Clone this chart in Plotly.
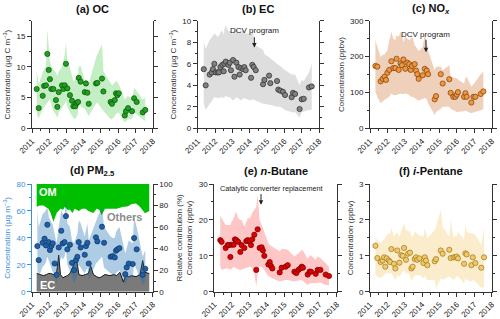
import plotly.graph_objects as go

# ---------------- data ----------------
years = [2011, 2012, 2013, 2014, 2015, 2016, 2017, 2018]
year_labels = [str(y) for y in years]

# (a) OC
a_dates = [2011.27, 2011.39, 2011.62, 2011.70, 2011.81, 2011.89, 2011.97, 2012.04, 2012.12, 2012.24,
           2012.39, 2012.47, 2012.55, 2012.74, 2012.82, 2012.90, 2012.97, 2013.05, 2013.20, 2013.32,
           2013.40, 2013.51, 2013.59, 2013.67, 2013.71, 2013.82, 2014.06, 2014.13, 2014.21, 2014.29,
           2014.71, 2014.79, 2015.06, 2015.14, 2015.56, 2015.64, 2015.80, 2015.87, 2015.95, 2016.03,
           2016.38, 2016.45, 2016.57, 2016.80, 2016.92, 2017.07, 2017.42, 2017.57]
oc = [6.4, 3.3, 5.3, 6.9, 7.0, 12.1, 9.5, 8.0, 6.4, 6.4, 4.6, 3.5, 5.9, 7.0, 6.4, 7.0, 10.5, 6.5, 5.4, 4.5,
      3.6, 3.6, 4.1, 4.3, 8.2, 7.6, 5.9, 7.3, 5.8, 4.0, 7.3, 7.4, 8.1, 6.0, 4.3, 4.0, 4.6, 5.7, 5.4, 5.7,
      2.1, 2.8, 3.3, 2.8, 4.9, 4.3, 2.6, 3.0]
oc_hi = [9.3, 7.2, 9.1, 9.6, 10.2, 16.1, 12.9, 11.0, 10.2, 9.5, 9.1, 8.5, 9.3, 10.0, 11.0, 12.0, 14.0, 11.0,
         9.9, 8.5, 7.7, 8.0, 8.5, 9.0, 10.0, 10.2, 7.7, 8.0, 7.8, 7.2, 11.5, 12.0, 13.7, 9.3, 7.2, 7.0, 7.4,
         7.7, 7.5, 7.2, 4.7, 5.0, 5.3, 4.7, 6.6, 6.1, 4.7, 5.0]
oc_lo = [2.3, 1.6, 3.1, 3.5, 3.8, 4.2, 4.5, 4.7, 3.8, 2.8, 2.2, 1.7, 2.6, 3.4, 3.6, 4.0, 4.5, 3.5, 2.6, 2.0,
         1.7, 1.5, 2.0, 2.4, 4.7, 3.6, 3.2, 3.0, 2.5, 2.0, 4.0, 4.2, 3.1, 2.8, 1.5, 1.5, 2.0, 2.4, 2.5, 2.6,
         0.9, 1.2, 1.5, 1.5, 2.6, 2.3, 1.5, 1.2]

# (b) EC
b_dates = [2011.35, 2011.46, 2011.69, 2011.81, 2011.88, 2011.96, 2012.04, 2012.15, 2012.23, 2012.31,
           2012.42, 2012.50, 2012.54, 2012.62, 2012.77, 2012.85, 2012.92, 2013.04, 2013.12, 2013.23,
           2013.35, 2013.42, 2013.50, 2013.62, 2013.69, 2013.77, 2014.08, 2014.15, 2014.23, 2014.35,
           2014.77, 2014.85, 2015.12, 2015.19, 2015.58, 2015.65, 2015.77, 2015.92, 2016.04, 2016.42,
           2016.50, 2016.62, 2016.88, 2017.00, 2017.12, 2017.42, 2017.58]
ec = [5.5, 4.0, 5.0, 5.2, 5.5, 6.0, 5.2, 5.2, 5.2, 5.7, 5.9, 5.3, 6.0, 6.2, 5.9, 6.1, 5.4, 6.35, 4.8, 6.1,
      5.7, 5.0, 5.6, 5.5, 5.7, 5.4, 4.7, 5.9, 5.7, 5.4, 4.1, 4.5, 4.9, 4.2, 4.4, 3.6, 3.5, 3.4, 3.1, 2.9,
      3.3, 3.2, 1.8, 2.7, 2.75, 3.8, 3.9]
ec_hi = [8.0, 7.4, 8.2, 8.5, 8.7, 8.8, 8.7, 8.5, 8.6, 8.9, 9.1, 8.7, 9.2, 9.6, 9.0, 9.1, 9.1, 8.7, 9.4, 9.3,
         8.8, 8.9, 8.9, 9.2, 9.0, 8.8, 8.8, 9.1, 8.5, 7.7, 7.3, 6.9, 6.6, 6.5, 6.0, 5.9, 5.8, 5.6, 5.4, 5.0,
         5.0, 5.0, 4.0, 4.5, 4.4, 5.2, 6.0]
ec_lo = [2.3, 1.7, 2.3, 2.5, 2.7, 2.9, 2.9, 2.8, 2.8, 2.9, 2.9, 2.8, 2.9, 3.0, 2.9, 2.9, 2.8, 2.6, 2.7, 2.9,
         2.8, 2.7, 2.6, 2.8, 2.8, 2.8, 2.6, 2.7, 2.7, 2.6, 2.3, 2.3, 2.2, 2.2, 2.0, 2.0, 2.0, 1.8, 1.7, 1.5,
         1.5, 1.5, 1.0, 1.5, 1.6, 1.7, 1.7]

# (c) NOx
c_dates = [2011.31, 2011.42, 2011.61, 2011.73, 2011.84, 2011.92, 2012.00, 2012.11, 2012.23, 2012.34,
           2012.46, 2012.53, 2012.65, 2012.76, 2012.84, 2012.92, 2013.03, 2013.15, 2013.26, 2013.34,
           2013.42, 2013.57, 2013.65, 2013.72, 2013.80, 2014.03, 2014.15, 2014.26, 2014.34, 2014.72,
           2014.80, 2015.07, 2015.18, 2015.56, 2015.64, 2015.79, 2015.91, 2015.99, 2016.06, 2016.41,
           2016.49, 2016.56, 2016.83, 2016.95, 2017.06, 2017.37, 2017.52]
nox = [174, 172, 131, 138, 144, 135, 155, 163, 187, 168, 168, 194, 163, 181, 176, 192, 166, 183, 179, 163,
       174, 179, 161, 151, 138, 148, 166, 161, 151, 81, 90, 151, 125, 137, 99, 88, 88, 94, 101, 88,
       98, 88, 72, 88, 88, 96, 103]
nox_hi = [246, 227, 199, 205, 205, 212, 218, 246, 269, 250, 246, 260, 255, 269, 260, 240, 255, 250, 246, 250,
          255, 232, 225, 218, 215, 227, 262, 240, 218, 162, 172, 172, 162, 176, 144, 142, 140, 140, 136, 125,
          140, 144, 116, 125, 130, 151, 158]
nox_lo = [102, 88, 70, 75, 80, 82, 83, 88, 97, 93, 92, 95, 95, 97, 95, 96, 97, 96, 92, 88,
          88, 85, 82, 79, 78, 82, 85, 82, 70, 37, 46, 55, 60, 60, 55, 51, 48, 46, 46, 48,
          50, 48, 42, 44, 46, 50, 53]

# (d) PM2.5
d_dates = [2011.31, 2011.39, 2011.62, 2011.73, 2011.81, 2011.89, 2011.97, 2012.04, 2012.12, 2012.20,
           2012.31, 2012.43, 2012.55, 2012.70, 2012.78, 2012.89, 2012.97, 2013.05, 2013.20, 2013.32,
           2013.44, 2013.55, 2013.63, 2013.71, 2013.82, 2014.06, 2014.13, 2014.21, 2014.29, 2014.71,
           2014.79, 2015.06, 2015.18, 2015.56, 2015.68, 2015.80, 2015.87, 2015.95, 2016.07, 2016.41,
           2016.49, 2016.61, 2016.84, 2016.92, 2017.07, 2017.42, 2017.57]
pm = [33.9, 23.5, 36.4, 39.4, 34.4, 49.8, 36.9, 31.0, 33.9, 35.9, 21.0, 12.6, 32.9, 45.3, 35.9, 36.9, 56.2,
      31.5, 34.9, 21.5, 16.1, 23.5, 26.0, 36.9, 32.9, 27.5, 33.9, 36.4, 21.0, 40.4, 37.4, 48.3, 36.4, 26.0,
      26.5, 25.5, 30.5, 31.5, 32.4, 13.1, 18.1, 21.0, 20.6, 39.9, 31.5, 12.6, 17.1]
pm_hi = [60.7, 48, 58, 59, 60.7, 63, 55.7, 54, 53, 50, 43, 36, 48, 60.7, 58, 55.7, 70.6, 50.8, 48, 38,
         36, 40, 43, 53, 50.8, 41, 46, 50.8, 38, 53, 55, 63, 48, 41, 40, 40, 44, 46, 48, 28.5,
         33, 38, 36, 55.7, 48, 26, 31]
pm_lo = [16, 11, 18.6, 20, 22, 26, 24, 20, 18, 15, 11, 6.2, 18.6, 26, 24, 26, 31, 20, 15, 11,
         6.2, 10, 12, 20, 18, 13.6, 16, 18, 8.7, 21, 22, 26, 18, 13.6, 13, 12, 14, 15, 16, 5,
         8, 11, 10, 21, 16, 5, 8]
comp_dates = [2011.27, 2011.45, 2011.66, 2011.85, 2011.95, 2012.08, 2012.24, 2012.43, 2012.55, 2012.65,
              2012.80, 2012.91, 2013.05, 2013.20, 2013.35, 2013.47, 2013.58, 2013.72, 2013.90, 2014.10,
              2014.27, 2014.40, 2014.56, 2014.75, 2014.90, 2015.04, 2015.23, 2015.52, 2015.75, 2015.91,
              2016.10, 2016.30, 2016.45, 2016.59, 2016.78, 2017.03, 2017.26, 2017.42, 2017.55, 2017.80]
ec_pct = [17, 16, 15, 16, 17, 17, 16, 18, 34, 16, 13, 14, 15, 17, 22, 28, 30, 16, 15, 16,
          17, 24, 16, 14, 13, 14, 16, 15, 16, 15, 18, 9, 16, 14, 15, 14, 16, 29, 18, 17]
om_pct = [21, 20, 20, 22, 23, 27, 35, 27, 25, 23, 24, 21, 24, 24, 27, 23, 24, 25, 23, 23,
          25, 26, 27, 23, 24, 29, 23, 23, 23, 23, 22, 21, 21, 20.5, 18.6, 18, 21, 24, 27.2, 25]
others_pct = [100 - e - o for e, o in zip(ec_pct, om_pct)]

# (e) n-Butane
e_dates = [2011.34, 2011.42, 2011.65, 2011.76, 2011.84, 2011.92, 2011.99, 2012.11, 2012.18, 2012.26,
           2012.37, 2012.49, 2012.56, 2012.72, 2012.83, 2012.91, 2013.02, 2013.10, 2013.17, 2013.29,
           2013.40, 2013.48, 2013.59, 2013.71, 2013.78, 2013.86, 2014.09, 2014.17, 2014.24, 2014.32,
           2014.74, 2014.85, 2015.08, 2015.20, 2015.58, 2015.69, 2015.81, 2015.92, 2016.00, 2016.07,
           2016.34, 2016.45, 2016.53, 2016.80, 2016.91, 2017.07, 2017.37, 2017.56]
butane = [14.4, 13.9, 12.2, 13.0, 13.0, 9.7, 13.1, 13.1, 14.6, 14.4, 13.9, 11.1, 13.0, 12.2, 14.1, 14.4,
          14.1, 13.0, 14.6, 15.9, 6.1, 17.4, 12.2, 12.4, 11.5, 10.0, 7.6, 8.3, 7.2, 6.5, 5.4, 6.7, 7.0, 7.4,
          5.6, 5.2, 6.1, 6.5, 7.0, 6.7, 4.8, 5.6, 5.6, 5.0, 6.1, 6.1, 4.8, 4.4]
butane_hi = [21.4, 20.5, 18.6, 18.6, 18.6, 18.6, 19.5, 20.5, 21.5, 22.3, 20.5, 20, 20, 18.1, 19.5, 20.5,
             20.5, 21, 22, 22.8, 23.7, 27, 20, 18.6, 17.7, 16.3, 13.5, 13, 12.8, 12.6, 11.2, 12, 11.7, 11.7,
             9.8, 10.2, 10.7, 11.2, 11.7, 11.5, 9.2, 10, 10.2, 8.9, 9.8, 9.4, 8, 7]
butane_lo = [7.0, 6.1, 6.5, 6.5, 6.4, 6.1, 6.5, 7.0, 6.7, 6.5, 6.3, 6.1, 6.3, 6.5, 6.7, 6.8, 7.0, 7.0, 6.5,
             5.0, 1.5, 5.2, 7.0, 7.0, 6.5, 6.1, 4.3, 4.0, 3.9, 3.8, 2.9, 3.0, 3.3, 3.3, 2.9, 3.0, 3.1, 3.3,
             3.3, 3.2, 1.9, 2.3, 2.4, 2.4, 2.5, 2.6, 1.9, 1.9]

# (f) i-Pentane
f_dates = [2011.31, 2011.42, 2011.61, 2011.73, 2011.81, 2011.88, 2011.96, 2012.08, 2012.15, 2012.23,
           2012.38, 2012.46, 2012.57, 2012.69, 2012.80, 2012.88, 2012.96, 2013.07, 2013.19, 2013.30,
           2013.38, 2013.45, 2013.57, 2013.65, 2013.72, 2013.84, 2014.07, 2014.15, 2014.22, 2014.30,
           2014.72, 2014.80, 2015.07, 2015.18, 2015.56, 2015.64, 2015.80, 2015.91, 2015.99, 2016.06,
           2016.41, 2016.49, 2016.56, 2016.83, 2016.91, 2017.06, 2017.40, 2017.56]
pentane = [1.28, 0.94, 0.83, 0.87, 0.96, 0.70, 0.93, 0.87, 0.83, 1.19, 0.78, 0.65, 1.15, 0.81, 1.02, 1.00,
           1.22, 0.89, 1.06, 1.09, 0.65, 0.70, 0.91, 0.96, 0.89, 0.93, 0.80, 0.96, 0.87, 0.74, 0.85, 0.91,
           1.15, 1.06, 1.17, 0.94, 0.96, 0.96, 0.98, 0.93, 0.78, 1.07, 1.04, 0.74, 0.96, 0.80, 0.67, 0.96]
pentane_hi = [1.49, 1.45, 1.35, 1.4, 1.45, 1.5, 1.58, 1.62, 1.6, 1.78, 1.53, 1.6, 1.67, 1.53, 1.72, 1.8,
              1.9, 1.72, 1.7, 1.67, 1.55, 1.53, 1.65, 1.67, 1.6, 1.58, 1.53, 1.77, 1.6, 1.49, 1.72, 1.81,
              2.28, 1.81, 1.53, 2.0, 1.53, 1.53, 1.55, 1.67, 1.45, 1.9, 1.67, 1.62, 1.62, 1.58, 1.31, 1.81]
pentane_lo = [0.47, 0.43, 0.38, 0.42, 0.47, 0.5, 0.52, 0.52, 0.5, 0.52, 0.4, 0.33, 0.45, 0.43, 0.5, 0.55,
              0.61, 0.5, 0.52, 0.45, 0.29, 0.35, 0.45, 0.47, 0.47, 0.47, 0.38, 0.45, 0.4, 0.33, 0.33, 0.1,
              0.38, 0.33, 0.43, 0.4, 0.33, 0.38, 0.43, 0.43, 0.24, 0.38, 0.33, 0.29, 0.33, 0.29, 0.1, 0.15]

# ---------------- figure ----------------
FONT = "Liberation Sans, Arial, sans-serif"
AX = "#333333"
fig = go.Figure()


def band(x, hi, lo, color, xa, ya):
    fig.add_trace(go.Scatter(x=list(x) + list(x)[::-1], y=list(hi) + list(lo)[::-1],
                             fill="toself", fillcolor=color, line=dict(width=0),
                             mode="lines", hoverinfo="skip", showlegend=False,
                             xaxis=xa, yaxis=ya))


def points(x, y, fillc, edgec, xa, ya):
    fig.add_trace(go.Scatter(x=x, y=y, mode="markers",
                             marker=dict(size=5.2, color=fillc, line=dict(color=edgec, width=0.7)),
                             showlegend=False, xaxis=xa, yaxis=ya))


band(a_dates, oc_hi, oc_lo, "#c4efc4", "x", "y")
points(a_dates, oc, "#1fa01f", "#0b500b", "x", "y")
band(b_dates, ec_hi, ec_lo, "#dedede", "x2", "y2")
points(b_dates, ec, "#808080", "#2a2a2a", "x2", "y2")
band(c_dates, nox_hi, nox_lo, "#efd1bb", "x3", "y3")
points(c_dates, nox, "#f0963c", "#7a3c08", "x3", "y3")

# (d) composition stack on right axis (y4), concentration on overlaying left axis (y7)
fig.add_trace(go.Scatter(x=comp_dates, y=ec_pct, stackgroup="comp", mode="lines",
                         line=dict(color="#111111", width=1), fillcolor="#7a7a7a",
                         showlegend=False, xaxis="x4", yaxis="y4"))
fig.add_trace(go.Scatter(x=comp_dates, y=others_pct, stackgroup="comp", mode="lines",
                         line=dict(width=0), fillcolor="rgba(255,255,255,0)",
                         showlegend=False, xaxis="x4", yaxis="y4"))
fig.add_trace(go.Scatter(x=comp_dates, y=om_pct, stackgroup="comp", mode="lines",
                         line=dict(width=0, color="#00bf00"), fillcolor="#00bf00",
                         showlegend=False, xaxis="x4", yaxis="y4"))
band(d_dates, pm_hi, pm_lo, "rgba(25,110,180,0.35)", "x4", "y7")
points(d_dates, pm, "#1f5fa6", "#0e3566", "x4", "y7")

band(e_dates, butane_hi, butane_lo, "#ffc6c6", "x5", "y5")
points(e_dates, butane, "#e00000", "#6e0000", "x5", "y5")
band(f_dates, pentane_hi, pentane_lo, "#fbedcb", "x6", "y6")
points(f_dates, pentane, "#f2c96a", "#9c7418", "x6", "y6")

W, H = 500, 319
colsx = [(32, 152.7), (197.7, 319), (370, 491.7)]
colsx_bottom = [(32, 152.7), (214.3, 336.7), (370, 491.7)]
top_y = (20.7, 128.4)
bot_y = (184, 291.8)


def xd(px):
    return [px[0] / W, px[1] / W]


def yd(py):
    return [1 - py[1] / H, 1 - py[0] / H]


def xaxis(dom, anchor):
    return dict(domain=xd(dom), anchor=anchor, range=[2011, 2018], tickmode="array",
                tickvals=years, ticktext=year_labels, tickangle=-45,
                showline=True, linecolor=AX, linewidth=1, ticks="outside", ticklen=4,
                tickcolor=AX, tickfont=dict(size=8, color="#222"),
                minor=dict(tickmode="linear", tick0=2011, dtick=0.5, ticks="outside",
                           ticklen=2, tickcolor=AX),
                showgrid=False, zeroline=False, automargin=False)


def yaxis(dom, anchor, rng, dtick, minor, title, color=AX, mirror="ticks", side="left"):
    return dict(domain=yd(dom), anchor=anchor, range=rng, dtick=dtick, tick0=0,
                showline=True, linecolor=color, linewidth=1, mirror=mirror, side=side,
                ticks="outside", ticklen=4, tickcolor=color,
                minor=dict(dtick=minor, tick0=0, ticks="outside", ticklen=2, tickcolor=color),
                tickfont=dict(size=8, color=color if color != AX else "#222"),
                title=dict(text=title, font=dict(size=8, color=color if color != AX else "#333"),
                           standoff=4),
                showgrid=False, zeroline=False, automargin=False)


ugm = "Concentration (µg m<sup>−3</sup>)"
ugc = "Concentration (µg C m<sup>−3</sup>)"
ppb = "Concentration (ppbv)"
BLUE = "#3a8fd6"

fig.update_layout(
    width=W, height=H, margin=dict(l=0, r=0, t=0, b=0, autoexpand=False),
    paper_bgcolor="white", plot_bgcolor="white",
    font=dict(family=FONT, color="#222"),
    showlegend=False,
    xaxis=xaxis(colsx[0], "y"),
    xaxis2=xaxis(colsx[1], "y2"),
    xaxis3=xaxis(colsx[2], "y3"),
    xaxis4=xaxis(colsx_bottom[0], "y4"),
    xaxis5=xaxis(colsx_bottom[1], "y5"),
    xaxis6=xaxis(colsx_bottom[2], "y6"),
    yaxis=yaxis(top_y, "x", [0, 17.5], 5, 2.5, ugc),
    yaxis2=yaxis(top_y, "x2", [0, 10], 2, 1, ugc),
    yaxis3=yaxis(top_y, "x3", [0, 300], 100, 50, ppb),
    yaxis4=yaxis(bot_y, "x4", [0, 100], 20, 10, "Relative contribution (%)", mirror=False, side="right"),
    yaxis5=yaxis(bot_y, "x5", [0, 30], 10, 5, ppb),
    yaxis6=yaxis(bot_y, "x6", [0, 3], 1, 0.5, ppb),
)
y7 = yaxis(bot_y, "x4", [0, 80], 20, 10, ugm, color=BLUE, mirror=False, side="left")
y7.pop("domain")
y7["overlaying"] = "y4"
fig.update_layout(yaxis7=y7)

# panel titles
titles = [("<b>(a) OC</b>", colsx[0], 9), ("<b>(b) EC</b>", colsx[1], 9),
          ("<b>(c) NO<i><sub>x</sub></i></b>", colsx[2], 9),
          ("<b>(d) PM<sub>2.5</sub></b>", colsx_bottom[0], 171),
          ("<b>(e) <i>n</i>-Butane</b>", colsx_bottom[1], 171),
          ("<b>(f) <i>i</i>-Pentane</b>", colsx_bottom[2], 171)]
for txt, (x0, x1), py in titles:
    fig.add_annotation(text=txt, x=(x0 + x1) / 2 / W, y=1 - py / H, xref="paper", yref="paper",
                       showarrow=False, font=dict(size=11, color="#111"), xanchor="center",
                       yanchor="middle")

# event annotations
events = [("DCV program", "x2", "y2", 2014.29, 9.13, 2014.27, 8.6, 7.5, 8),
          ("DCV program", "x3", "y3", 2014.22, 262, 2014.22, 251, 212, 8),
          ("Catalytic converter replacement", "x5", "y5", 2014.26, 28.8, 2013.67, 27.6, 24.2, 7.3)]
for txt, xa, ya, tx, ty, axx, ay0, ay1, fs in events:
    fig.add_annotation(text=txt, x=tx, y=ty, xref=xa, yref=ya, showarrow=False,
                       font=dict(size=fs, color="#222"))
    fig.add_annotation(text="", x=axx, y=ay1, ax=axx, ay=ay0, xref=xa, yref=ya,
                       axref=xa, ayref=ya, showarrow=True, arrowhead=2, arrowsize=0.9,
                       arrowwidth=1, arrowcolor="#222")

# composition labels
fig.add_annotation(text="<b>OM</b>", x=2011.93, y=92.5, xref="x4", yref="y4", showarrow=False,
                   font=dict(size=11, color="white"))
fig.add_annotation(text="<b>Others</b>", x=2016.39, y=69.4, xref="x4", yref="y4", showarrow=False,
                   font=dict(size=11, color="#8c8c8c"))
fig.add_annotation(text="<b>EC</b>", x=2011.87, y=6.2, xref="x4", yref="y4", showarrow=False,
                   font=dict(size=11, color="white"))

fig.write_html("out.html", config={"displayModeBar": False},
               post_script="document.body.style.margin='0';")
